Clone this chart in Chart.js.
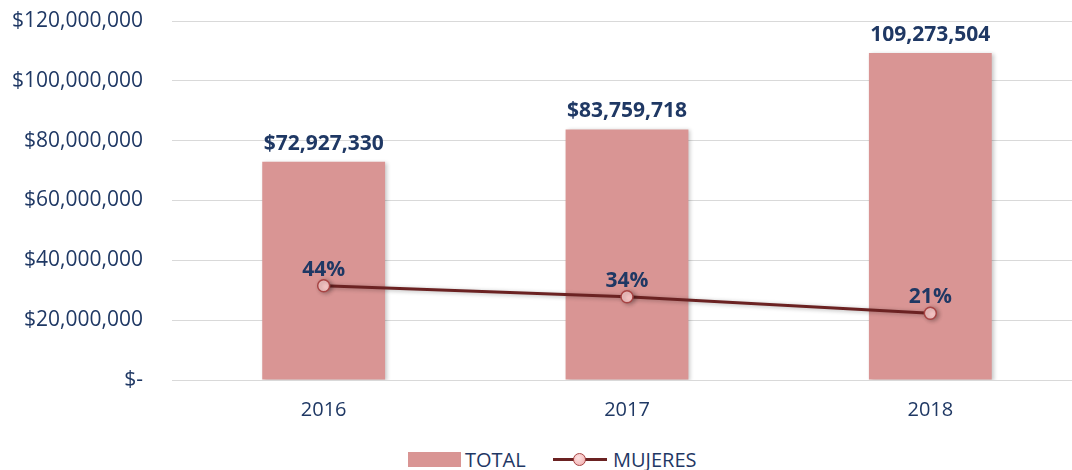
<!DOCTYPE html>
<html lang="es">
<head>
    <meta charset="UTF-8">
    <title>Total vs Mujeres</title>
    <script src="https://cdn.jsdelivr.net/npm/chart.js"></script>
    <style>
        html, body { margin: 0; padding: 0; background: #fff; overflow: hidden; }
        body { height: 470px; position: relative; font-family: 'Open Sans', sans-serif; }
        .wrap { position: absolute; left: 0; top: 0; width: 1082px; height: 430px; }
        .legend { position: absolute; left: 0; top: 447px; width: 1072px; height: 26px; color: #1f3864; font-size: 20px; }
        .legend span { position: absolute; line-height: 26px; white-space: nowrap; }
        .swatch { position: absolute; left: 408px; top: 5px; width: 53px; height: 15px; background: #d99594; }
        .lline { position: absolute; left: 553px; top: 11px; width: 54px; height: 3px; background: #6b2222; }
        .ldot { position: absolute; left: 573px; top: 6px; width: 11px; height: 11px; border-radius: 50%;
                background: radial-gradient(circle at 40% 35%, #fde3e3, #f0a9a9); border: 1.5px solid #a84444; }
    </style>
</head>
<body>
    <div class="wrap"><canvas id="chart" width="1082" height="430"></canvas></div>
    <div class="legend">
        <div class="swatch"></div>
        <span style="left:465px;">TOTAL</span>
        <div class="lline"></div>
        <div class="ldot"></div>
        <span style="left:613px;">MUJERES</span>
    </div>

    <script>
        const years = ['2016', '2017', '2018'];
        const totals = [72927330, 83759718, 109273504];
        const totalLabels = ['$72,927,330', '$83,759,718', '109,273,504'];
        const mujeres = [31500000, 27800000, 22300000];
        const mujeresPct = ['44%', '34%', '21%'];

        const navy = '#1f3864';

        // soft shadow on the bars and points, like the original
        const shadowPlugin = {
            id: 'softShadow',
            beforeDatasetDraw(chart, args) {
                const ctx = chart.ctx;
                ctx.save();
                ctx.shadowColor = args.index === 0 ? 'rgba(0,0,0,0.22)' : 'rgba(0,0,0,0.3)';
                ctx.shadowBlur = 4;
                ctx.shadowOffsetX = 2;
                ctx.shadowOffsetY = 1;
            },
            afterDatasetDraw(chart) {
                chart.ctx.restore();
            }
        };

        // draws the value labels above bars and points
        const labelPlugin = {
            id: 'valueLabels',
            afterDatasetsDraw(chart) {
                const ctx = chart.ctx;
                ctx.save();
                ctx.fillStyle = navy;
                ctx.textAlign = 'center';
                ctx.textBaseline = 'middle';
                ctx.font = 'bold 21px "Open Sans"';
                chart.getDatasetMeta(0).data.forEach((bar, i) => {
                    ctx.fillText(totalLabels[i], bar.x, bar.y - 18);
                });
                chart.getDatasetMeta(1).data.forEach((pt, i) => {
                    ctx.fillText(mujeresPct[i], pt.x, pt.y - 16);
                });
                ctx.restore();
            }
        };

        const ctx = document.getElementById('chart').getContext('2d');
        new Chart(ctx, {
            data: {
                labels: years,
                datasets: [{
                    type: 'bar',
                    label: 'TOTAL',
                    data: totals,
                    backgroundColor: '#d99594',
                    barPercentage: 0.405,
                    categoryPercentage: 1,
                    order: 1
                }, {
                    type: 'line',
                    label: 'MUJERES',
                    data: mujeres,
                    borderColor: '#6b2222',
                    borderWidth: 3,
                    pointRadius: 6,
                    pointBackgroundColor: '#f6c4c4',
                    pointBorderColor: '#a84444',
                    pointBorderWidth: 1.5,
                    tension: 0,
                    order: 0
                }]
            },
            options: {
                responsive: false,
                animation: false,
                layout: { autoPadding: false, padding: { top: 21, left: 0, right: 0, bottom: 0 } },
                plugins: {
                    legend: { display: false },
                    tooltip: { enabled: false }
                },
                scales: {
                    x: {
                        offset: true,
                        grid: { display: false, drawTicks: false },
                        border: { color: '#d9d9d9', width: 1 },
                        ticks: { color: navy, font: { family: 'Open Sans', size: 20 }, padding: 18 },
                        afterFit(scale) { scale.height = 50; }
                    },
                    y: {
                        min: 0,
                        max: 120000000,
                        grid: { color: '#d9d9d9', lineWidth: 1, drawTicks: false },
                        border: { display: false },
                        ticks: {
                            stepSize: 20000000,
                            color: navy,
                            padding: 29,
                            font: { family: 'Open Sans', size: 21 },
                            callback: v => v === 0 ? '$-' : '$' + v.toLocaleString('en-US')
                        },
                        afterFit(scale) {
                            scale.width = 172;
                            scale.paddingTop = 0;
                            scale.paddingBottom = 0;
                        }
                    }
                }
            },
            plugins: [shadowPlugin, labelPlugin]
        });
    </script>
</body>
</html>
